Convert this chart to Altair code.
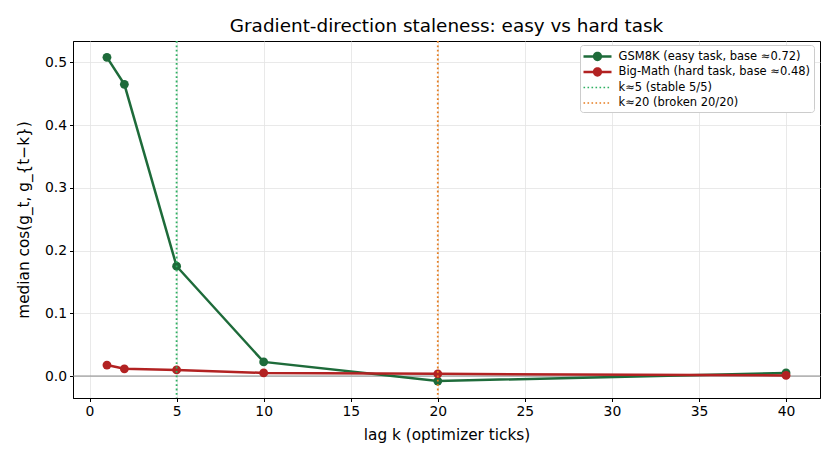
import altair as alt
import pandas as pd

# ---- data ----
lags = [1, 2, 5, 10, 20, 40]
gsm8k = [0.508, 0.465, 0.175, 0.0225, -0.008, 0.005]
bigmath = [0.0175, 0.0115, 0.0098, 0.005, 0.0035, 0.001]
marker_lags = [5, 20]
zero_level = [0.0]
series_labels = [
    "GSM8K (easy task, base ≈0.72)",
    "Big-Math (hard task, base ≈0.48)",
    "k≈5 (stable 5/5)",
    "k≈20 (broken 20/20)",
]
x_ticks = [0, 5, 10, 15, 20, 25, 30, 35, 40]
y_ticks = [0.0, 0.1, 0.2, 0.3, 0.4, 0.5]

# ---- styling ----
c_gsm = "#1e6b3a"
c_big = "#b22222"
c_k5 = "#2eb062"
c_k20 = "#e67e22"
colors = [c_gsm, c_big, c_k5, c_k20]
FONT = "DejaVu Sans"

xscale = alt.Scale(domain=[-0.95, 41.95], nice=False, zero=False)
yscale = alt.Scale(domain=[-0.035, 0.534], nice=False, zero=False)

xaxis = alt.Axis(values=x_ticks, title="lag k (optimizer ticks)", format="d")
yaxis = alt.Axis(values=y_ticks, title="median cos(g_t, g_{t−k})", format=".1f")

gsm_df = pd.DataFrame({"k": lags, "v": gsm8k})
big_df = pd.DataFrame({"k": lags, "v": bigmath})

base_x = alt.X("k:Q", scale=xscale, axis=xaxis)
base_y = alt.Y("v:Q", scale=yscale, axis=yaxis)

zero_rule = alt.Chart(pd.DataFrame({"v": zero_level})).mark_rule(
    color="#888888", strokeWidth=1
).encode(y=alt.Y("v:Q", scale=yscale, axis=yaxis))

def series_layers(df, color):
    line = alt.Chart(df).mark_line(color=color, strokeWidth=2.5).encode(x=base_x, y=base_y)
    pts = alt.Chart(df).mark_point(
        color=color, filled=True, opacity=1, size=78
    ).encode(x=base_x, y=base_y)
    return line + pts

vrule5 = alt.Chart(pd.DataFrame({"k": [marker_lags[0]]})).mark_rule(
    color=c_k5, strokeWidth=1.8, strokeDash=[1.8, 2.6]
).encode(x=alt.X("k:Q", scale=xscale, axis=xaxis))
vrule20 = alt.Chart(pd.DataFrame({"k": [marker_lags[1]]})).mark_rule(
    color=c_k20, strokeWidth=1.8, strokeDash=[1.8, 2.6]
).encode(x=alt.X("k:Q", scale=xscale, axis=xaxis))

# legend symbols (unit = 8 px), shifted right by 0.75 unit
line_circle = (
    "M-1,-0.16H2.5V0.16H-1Z "
    "M0.17,0A0.58,0.58 0 1,1 1.33,0A0.58,0.58 0 1,1 0.17,0Z"
)
dots = []
x0 = -1.0
while x0 < 2.45:
    dots.append(f"M{x0:.3f},-0.1h0.2v0.2h-0.2Z")
    x0 += 0.5
dotted = " ".join(dots)

legend_props = dict(
    title=None,
    orient="none",
    legendX=507,
    legendY=4,
    symbolSize=256,
    symbolOpacity=1,
    symbolStrokeWidth=0,
    labelFont=FONT,
    labelFontSize=11.5,
    labelColor="black",
    labelLimit=400,
    labelOffset=19,
    rowPadding=1.5,
    padding=3.5,
    strokeColor="#cccccc",
    fillColor="white",
    cornerRadius=3,
)

legend_carrier = alt.Chart(pd.DataFrame({"series": series_labels})).mark_point(
    filled=True, opacity=0
).encode(
    color=alt.Color(
        "series:N",
        scale=alt.Scale(domain=series_labels, range=colors),
        legend=alt.Legend(**legend_props),
    ),
    shape=alt.Shape(
        "series:N",
        scale=alt.Scale(domain=series_labels, range=[line_circle, line_circle, dotted, dotted]),
        legend=alt.Legend(**legend_props),
    ),
)

chart = alt.layer(
    zero_rule,
    series_layers(gsm_df, c_gsm),
    series_layers(big_df, c_big),
    vrule5,
    vrule20,
    legend_carrier,
).properties(
    width=747,
    height=357,
    background="white",
    title=alt.TitleParams(
        "Gradient-direction staleness: easy vs hard task",
        font=FONT,
        fontSize=18.4,
        fontWeight="normal",
        color="black",
        anchor="middle",
        offset=5,
    ),
    autosize=alt.AutoSizeParams(type="none"),
    padding={"left": 73, "top": 41, "right": 16, "bottom": 64},
).configure_view(
    stroke="black", strokeWidth=1
).configure_axis(
    labelFont=FONT,
    titleFont=FONT,
    labelFontSize=13.9,
    titleFontSize=15.3,
    labelColor="black",
    titleColor="black",
    titleFontWeight="normal",
    domainColor="black",
    tickColor="black",
    tickSize=3.5,
    labelPadding=3,
    gridColor="#e3e3e3",
    gridWidth=0.8,
).configure_axisX(
    titlePadding=9,
).configure_axisY(
    titlePadding=13,
)

chart.save("out.html", embed_options={"renderer": "svg", "actions": False})
